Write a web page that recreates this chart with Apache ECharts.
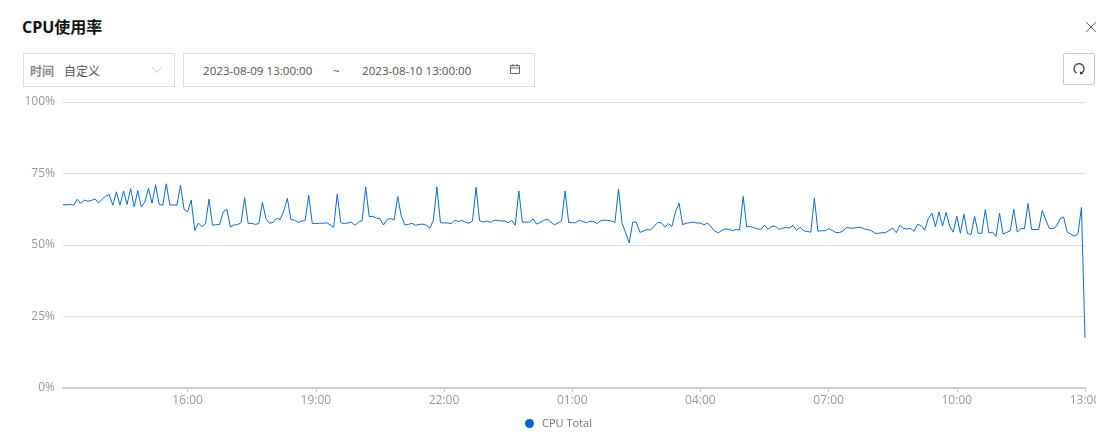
<!DOCTYPE html>
<html><head><meta charset="utf-8">
<script src="https://cdn.jsdelivr.net/npm/echarts@6/dist/echarts.min.js"></script>
<style>
html,body{margin:0;padding:0;background:#fff;width:1115px;height:440px;overflow:hidden;font-family:"Open Sans","Noto Sans CJK SC",sans-serif}
.a{position:absolute;white-space:nowrap}
.box{position:absolute;border:1px solid #dcdcdc;box-sizing:border-box}
#c{position:absolute;left:0;top:88px;width:1096px;height:352px}
</style></head><body>
<div class="a" style="left:22px;top:16px;font:700 16px/22px 'Open Sans','Noto Sans CJK SC';color:#111">CPU使用率</div>
<svg class="a" style="left:1085px;top:21px" width="12" height="12"><path d="M1 1L11 11M11 1L1 11" stroke="#666" stroke-width="1" fill="none"/></svg>
<div class="box" style="left:23px;top:53px;width:152px;height:34px"></div>
<div class="a" style="left:30px;top:62px;font:700 12px/18px 'Noto Sans CJK SC';color:#888">时间</div>
<div class="a" style="left:64px;top:62px;font:12px/18px 'Noto Sans CJK SC';color:#555">自定义</div>
<svg class="a" style="left:151px;top:66px" width="12" height="8"><path d="M1 1L6 6.5L11 1" stroke="#ccc" fill="none"/></svg>
<div class="box" style="left:183px;top:53px;width:352px;height:34px"></div>
<div class="a" style="left:203px;top:62px;font:11.6px/18px 'Open Sans';color:#555">2023-08-09 13:00:00</div>
<div class="a" style="left:333px;top:62px;font:11.6px/18px 'Open Sans';color:#555">~</div>
<div class="a" style="left:362px;top:62px;font:11.6px/18px 'Open Sans';color:#555">2023-08-10 13:00:00</div>
<svg class="a" style="left:509px;top:63px" width="12" height="12"><path d="M1.5 2.5H10.5V10.5H1.5ZM1.5 5H10.5M4 1V3.5M8 1V3.5" stroke="#666" fill="none"/></svg>
<div class="box" style="left:1063px;top:53px;width:32px;height:32px;border-color:#c8ccd0;border-radius:2px"></div>
<svg class="a" style="left:1072px;top:62px" width="14" height="14"><path d="M4.5 11A5 5 0 1 1 9.5 11" stroke="#333" stroke-width="1.2" fill="none"/><path d="M8.5 10L10.5 11.5L8.5 12Z" fill="#333" stroke="#333"/></svg>
<div id="c"></div>
<script>
const seriesName = 'CPU Total';
const yTicks = [0, 25, 50, 75, 100];
const shownHours = ['16:00','19:00','22:00','01:00','04:00','07:00','10:00','13:00'];
const cpuTotal = [
64.1,64.0,64.2,63.9,66.0,64.6,65.7,65.3,65.6,66.1,64.7,66.0,67.1,67.6,63.9,68.6,63.9,68.9,64.2,69.7,
63.4,69.0,63.3,65.1,69.8,64.6,71.1,64.2,63.9,71.4,64.0,64.0,63.9,70.9,62.5,61.6,65.7,55.1,57.7,56.4,
57.5,66.0,56.9,57.1,57.2,61.6,62.5,56.3,57.0,57.1,57.8,66.5,57.5,57.6,57.2,57.5,64.9,59.2,57.6,57.9,
59.3,58.9,61.9,66.3,58.9,58.7,57.9,58.4,58.5,67.4,
57.5,57.5,57.6,57.6,57.8,57.1,56.2,67.7,57.8,57.5,57.7,58.0,56.9,58.0,58.5,70.3,59.9,60.0,59.4,59.2,
57.0,58.9,59.3,58.7,66.9,60.1,57.0,57.2,57.6,56.9,57.2,57.3,56.9,55.9,58.6,70.3,57.8,57.7,57.7,57.5,
58.7,58.2,58.6,58.0,57.6,58.4,70.2,58.5,58.0,58.4,57.9,58.6,58.6,58.4,58.4,57.8,58.6,56.9,68.9,58.0,
58.0,58.0,59.1,57.3,57.9,58.6,59.0,58.0,57.0,57.7,58.4,68.9,57.9,57.8,
57.8,58.7,58.2,57.8,58.3,58.2,57.5,58.5,58.7,58.6,58.4,57.9,69.6,57.6,54.3,50.7,58.0,58.0,54.4,54.9,
55.4,55.2,56.6,57.8,57.8,56.3,57.5,56.5,61.6,64.6,57.1,57.6,57.8,58.0,57.7,57.7,57.0,57.7,56.3,54.9,
54.2,55.1,55.6,55.5,55.0,55.5,55.2,67.0,56.3,56.5,56.1,55.6,55.5,56.9,55.5,56.5,56.6,55.5,55.9,56.1,
55.9,56.9,55.1,56.2,55.0,54.7,54.5,66.3,54.8,55.0,55.0,55.7,55.1,54.4,54.3,54.9,56.1,55.9,55.9,56.1,
56.2,55.6,55.4,55.0,54.1,54.1,54.3,54.3,55.1,55.9,54.3,56.9,55.8,55.6,55.8,54.8,57.2,56.8,55.2,59.3,
61.1,56.4,61.6,56.6,61.4,56.6,54.5,60.1,54.1,60.8,54.0,53.7,60.0,54.1,54.1,62.4,54.2,54.5,53.0,61.1,
53.8,54.4,54.9,62.5,54.5,55.8,55.7,64.5,55.5,55.4,55.4,62.1,58.7,55.8,55.7,56.6,59.2,59.8,54.5,53.8,
53.1,53.7,63.1,17.5
];
// one label every five minutes, from 13:05 to 13:00 the next day
const times = cpuTotal.map((_, i) => {
  const m = 13 * 60 + 5 * (i + 1);
  const p = n => String(n).padStart(2, '0');
  return p(Math.floor(m / 60) % 24) + ':' + p(m % 60);
});
const chart = echarts.init(document.getElementById('c'), null, {renderer: 'canvas'});
chart.setOption({
  animation: false,
  textStyle: {fontFamily: '"Open Sans","Noto Sans CJK SC",sans-serif'},
  legend: {data: [{name: seriesName, icon: 'circle'}], left: 520, top: 325, itemWidth: 9, itemHeight: 9, itemGap: 11,
           textStyle: {color: '#777', fontSize: 11, padding: [0, 0, 0, 3]}},
  grid: {left: 63, right: 11, top: 14, height: 286, outerBoundsMode: 'none'},
  xAxis: {type: 'category', boundaryGap: false, data: times,
    axisLine: {lineStyle: {color: '#cccccc', width: 2}},
    axisTick: {alignWithLabel: true, length: 4, lineStyle: {color: '#cccccc'}, interval: (i, v) => shownHours.includes(v)},
    axisLabel: {color: '#999', fontSize: 12, margin: 7, hideOverlap: false, interval: (i, v) => shownHours.includes(v)},
    splitLine: {show: false}},
  yAxis: {type: 'value', min: yTicks[0], max: yTicks[4], interval: yTicks[1],
    axisLine: {show: false}, axisTick: {show: false},
    axisLabel: {color: '#999', fontSize: 12, margin: 8, formatter: '{value}%'},
    splitLine: {lineStyle: {color: '#dddddd', width: 1}}},
  series: [{name: seriesName, type: 'line', data: cpuTotal, showSymbol: false, symbol: 'circle',
    lineStyle: {color: '#0a6cd0', width: 1}, itemStyle: {color: '#0066cc'}, clip: false}]
});
</script></body></html>
